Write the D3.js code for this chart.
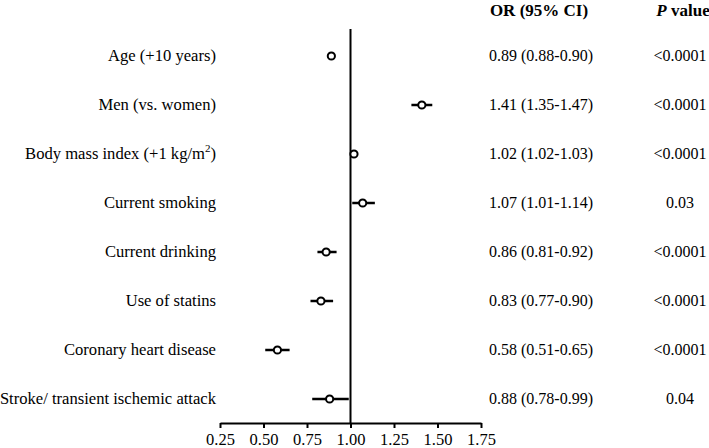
<!DOCTYPE html>
<html><head><meta charset="utf-8">
<script src="https://cdn.jsdelivr.net/npm/d3@7"></script>
<style>
body{margin:0;background:#fff;}
text{font-family:"Liberation Serif","Times New Roman",serif;fill:#000;}
</style></head>
<body><svg id="c" width="709" height="448"></svg>
<script>
const categories = ["Age (+10 years)","Men (vs. women)","Body mass index (+1 kg/m²)","Current smoking","Current drinking","Use of statins","Coronary heart disease","Stroke/ transient ischemic attack"];
const orValues = [0.89,1.41,1.02,1.07,0.86,0.83,0.58,0.88];
const ciLow = [0.88,1.35,1.02,1.01,0.81,0.77,0.51,0.78];
const ciHigh = [0.90,1.47,1.03,1.14,0.92,0.90,0.65,0.99];
const orLabels = ["0.89 (0.88-0.90)","1.41 (1.35-1.47)","1.02 (1.02-1.03)","1.07 (1.01-1.14)","0.86 (0.81-0.92)","0.83 (0.77-0.90)","0.58 (0.51-0.65)","0.88 (0.78-0.99)"];
const pLabels = ["<0.0001","<0.0001","<0.0001","0.03","<0.0001","<0.0001","<0.0001","0.04"];
const xTicks = [0.25,0.50,0.75,1.00,1.25,1.50,1.75];

const svg = d3.select("#c");
const x = d3.scaleLinear().domain([0.25,1.75]).range([220,481]);
const y = d3.scalePoint().domain(d3.range(categories.length)).range([56,399]);

// axis
const ax = svg.append("g").attr("transform","translate(0,423)")
  .call(d3.axisBottom(x).tickValues(xTicks).tickFormat(d3.format(".2f")).tickSize(5).tickSizeOuter(0));
ax.select(".domain").attr("stroke","#000").attr("stroke-width",2.2);
ax.selectAll(".tick line").attr("stroke","#000").attr("stroke-width",2);
ax.selectAll(".tick text").attr("font-size",16.5).attr("dy",0).attr("y",22)
  .style("font-family","'Liberation Serif',serif");

// reference line at 1
svg.append("line").attr("x1",x(1)).attr("x2",x(1)).attr("y1",29).attr("y2",423)
  .attr("stroke","#000").attr("stroke-width",2);

// category labels
svg.append("g").selectAll("text").data(categories).join("text")
  .attr("x",216).attr("y",(d,i)=>y(i)+5).attr("text-anchor","end").attr("font-size",16.6)
  .each(function(d){
    const t=d3.select(this);
    if(d.includes("²")){
      t.append("tspan").text("Body mass index (+1 kg/m");
      t.append("tspan").text("2").attr("font-size",11).attr("dy",-7);
      t.append("tspan").text(")").attr("dy",7);
    } else t.text(d);
  });

// CI lines
svg.append("g").selectAll("line").data(orValues).join("line")
  .attr("x1",(d,i)=>x(ciLow[i])).attr("x2",(d,i)=>x(ciHigh[i]))
  .attr("y1",(d,i)=>y(i)).attr("y2",(d,i)=>y(i))
  .attr("stroke","#000").attr("stroke-width",2.5);
// markers
svg.append("g").selectAll("circle").data(orValues).join("circle")
  .attr("cx",d=>x(d)).attr("cy",(d,i)=>y(i)).attr("r",3.6)
  .attr("fill","#fff").attr("stroke","#000").attr("stroke-width",2);

// headers
svg.append("text").attr("x",539).attr("y",16).attr("text-anchor","middle")
  .attr("font-size",17).attr("font-weight","bold").text("OR (95% CI)");
const ph = svg.append("text").attr("x",683).attr("y",16).attr("text-anchor","middle")
  .attr("font-size",17).attr("font-weight","bold");
ph.append("tspan").attr("font-style","italic").text("P");
ph.append("tspan").text(" value");

// OR text
svg.append("g").selectAll("text").data(orLabels).join("text")
  .attr("x",541).attr("y",(d,i)=>y(i)+5).attr("text-anchor","middle").attr("font-size",16).text(d=>d);
svg.append("g").selectAll("text").data(pLabels).join("text")
  .attr("x",680).attr("y",(d,i)=>y(i)+5).attr("text-anchor","middle").attr("font-size",16).text(d=>d);
</script></body></html>
